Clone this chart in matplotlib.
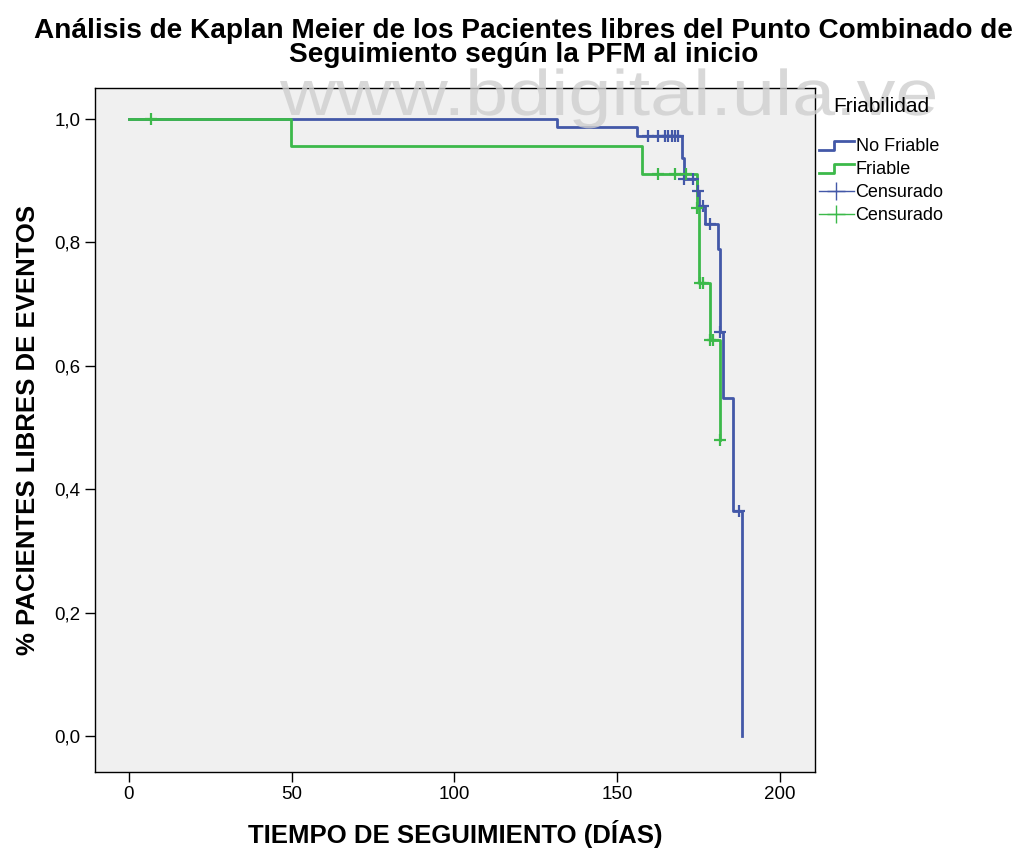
import numpy as np
import matplotlib
matplotlib.use('Agg')
from matplotlib import pyplot as plt
from matplotlib.lines import Line2D
from matplotlib.legend_handler import HandlerBase
from matplotlib.textpath import TextPath
from matplotlib.patches import PathPatch
from matplotlib.font_manager import FontProperties
from matplotlib.transforms import Affine2D, IdentityTransform

plt.rcParams['font.family'] = ['Liberation Sans', 'DejaVu Sans']

# Kaplan-Meier steps (days, survival)
blue_t = [0, 131.4, 156.0, 169.9, 170.5, 174.4, 175.2, 176.9, 181.0, 181.5, 182.6, 185.6, 188.5]
blue_s = [1.0, 0.986, 0.972, 0.936, 0.902, 0.882, 0.858, 0.829, 0.788, 0.655, 0.547, 0.364, 0.0]
blue_cens = [159.4, 162.5, 164.7, 165.6, 166.8, 167.7, 168.6, 170.6, 173.3, 174.7,
             176.4, 178.5, 181.6, 187.5]

green_t = [0, 49.8, 157.5, 174.4, 175.2, 178.4, 181.7]
green_s = [1.0, 0.955, 0.910, 0.855, 0.734, 0.642, 0.480]
green_cens = [6.9, 162.5, 167.7, 171.3, 174.4, 175.6, 176.5, 178.6, 179.6, 181.7]

group_names = ['No Friable', 'Friable']
blue_c = '#4358a8'
green_c = '#3cb94a'

x_ticks = [0, 50, 100, 150, 200]
y_ticks = [0.0, 0.2, 0.4, 0.6, 0.8, 1.0]


def level_at(times, surv, c):
    idx = np.searchsorted(times, c, side='right') - 1
    return np.array(surv)[idx]


class HandlerStep(HandlerBase):
    def create_artists(self, legend, orig_handle, xdescent, ydescent,
                       width, height, fontsize, trans):
        x0 = -xdescent
        y0 = -ydescent + height * 0.1
        y1 = -ydescent + height * 0.85
        xs = [x0, x0 + width * 0.45, x0 + width * 0.45, x0 + width]
        ys = [y0, y0, y1, y1]
        ln = Line2D(xs, ys, color=orig_handle.get_color(), lw=orig_handle.get_linewidth(),
                    transform=trans)
        return [ln]


fig = plt.figure(figsize=(10.17, 8.51), dpi=100)
ax = fig.add_axes([0.0934, 0.093, 0.7080, 0.804])
ax.set_facecolor('#f0f0f0')

b_line, = ax.step(blue_t, blue_s, where='post', color=blue_c, lw=2.0, zorder=3)
g_line, = ax.step(green_t, green_s, where='post', color=green_c, lw=2.0, zorder=4)

ax.plot(blue_cens, level_at(blue_t, blue_s, blue_cens), '+', color=blue_c,
        ms=9, mew=1.6, zorder=5)
ax.plot(green_cens, level_at(green_t, green_s, green_cens), '+', color=green_c,
        ms=9, mew=1.6, zorder=6)

ax.set_xlim(-10.4, 210.8)
ax.set_ylim(-0.058, 1.05)
ax.set_xticks(x_ticks)
ax.set_yticks(y_ticks)
ax.set_yticklabels([('%.1f' % v).replace('.', ',') for v in y_ticks])
ax.tick_params(axis='both', labelsize=13.5, length=7, width=1, direction='out')
for sp in ax.spines.values():
    sp.set_linewidth(1)

ax.set_xlabel('TIEMPO DE SEGUIMIENTO (DÍAS)', fontsize=18.5, fontweight='bold', labelpad=12)
ax.set_ylabel('% PACIENTES LIBRES DE EVENTOS', fontsize=18.5, fontweight='bold', labelpad=10)

fig.text(0.515, 0.979, 'Análisis de Kaplan Meier de los Pacientes libres del Punto Combinado de\n'
         'Seguimiento según la PFM al inicio', ha='center', va='top',
         fontsize=20.2, fontweight='bold', linespacing=0.9)

# watermark, stretched to the reference's narrow letter shape (pixel coords)
wm = TextPath((0, 0), 'www.bdigital.ula.ve', size=1, prop=FontProperties(family='Liberation Sans'))
ext = wm.get_extents()
sx = 655 / ext.width
sy = 47 / 0.73
wm_tr = Affine2D().translate(-ext.x0, 0).scale(sx, sy).translate(280, 851 - 115)
fig.patches.append(PathPatch(wm, transform=wm_tr + IdentityTransform(), facecolor='#cfcfcf',
                             edgecolor='none', alpha=0.8, zorder=10))

fig.text(833 / 1017, 1 - 107 / 851, 'Friabilidad', ha='left', va='center', fontsize=15, zorder=11)

cens_b = Line2D([], [], color=blue_c, marker='+', ms=13, lw=1, mew=1)
cens_g = Line2D([], [], color=green_c, marker='+', ms=13, lw=1, mew=1)
leg = fig.legend([b_line, g_line, cens_b, cens_g],
                 group_names + ['Censurado', 'Censurado'],
                 handler_map={b_line: HandlerStep(), g_line: HandlerStep()},
                 loc='upper left', bbox_to_anchor=(0.796, 0.848), frameon=False,
                 fontsize=13, handlelength=1.95, handletextpad=0.1, labelspacing=0.33,
                 borderpad=0.0)

fig.savefig('out.png', dpi=100, facecolor='white')
